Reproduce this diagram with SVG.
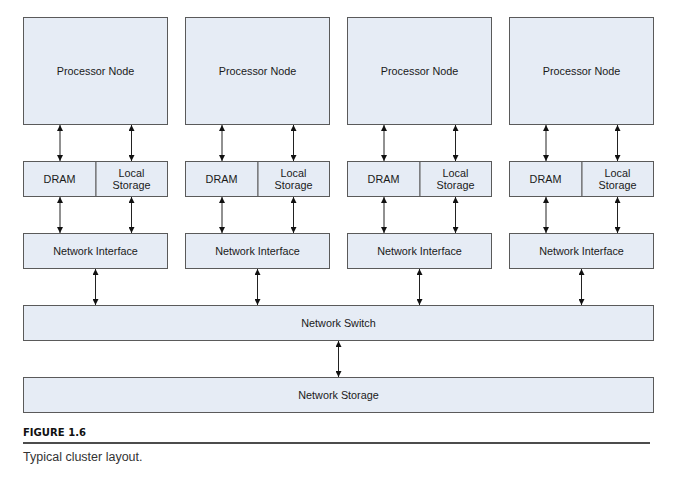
<svg xmlns="http://www.w3.org/2000/svg" width="684" height="487" viewBox="0 0 684 487">
<defs>
<marker id="ah" viewBox="0 0 6 6" refX="6" refY="3" markerWidth="6" markerHeight="6" markerUnits="userSpaceOnUse" orient="auto-start-reverse">
<path d="M0,0 L6,3 L0,6 Z" fill="#111"/>
</marker>
</defs>
<style>
.box{fill:#e6ecf5;stroke:#5a5a5a;stroke-width:1}
.lbl{font-family:"Liberation Sans",Arial,sans-serif;font-size:10.8px;fill:#1a1a1a;text-anchor:middle}
.con line{stroke:#222;stroke-width:1;marker-start:url(#ah);marker-end:url(#ah)}
</style>
<rect width="684" height="487" fill="#fff"/>
<g id="pn1"><rect class="box" x="23.5" y="17.5" width="144" height="107"/><text class="lbl" x="95.5" y="75">Processor Node</text></g>
<g id="pn2"><rect class="box" x="185.5" y="17.5" width="144" height="107"/><text class="lbl" x="257.5" y="75">Processor Node</text></g>
<g id="pn3"><rect class="box" x="347.5" y="17.5" width="144" height="107"/><text class="lbl" x="419.5" y="75">Processor Node</text></g>
<g id="pn4"><rect class="box" x="509.5" y="17.5" width="144" height="107"/><text class="lbl" x="581.5" y="75">Processor Node</text></g>

<g id="mem1"><rect class="box" x="23.5" y="161.5" width="72.5" height="35"/><rect class="box" x="96" y="161.5" width="71.5" height="35"/><text class="lbl" x="59.5" y="183">DRAM</text><text class="lbl" x="131.5" y="177">Local</text><text class="lbl" x="131.5" y="189">Storage</text></g>
<g id="mem2"><rect class="box" x="185.5" y="161.5" width="72.5" height="35"/><rect class="box" x="258" y="161.5" width="71.5" height="35"/><text class="lbl" x="221.5" y="183">DRAM</text><text class="lbl" x="293.5" y="177">Local</text><text class="lbl" x="293.5" y="189">Storage</text></g>
<g id="mem3"><rect class="box" x="347.5" y="161.5" width="72.5" height="35"/><rect class="box" x="420" y="161.5" width="71.5" height="35"/><text class="lbl" x="383.5" y="183">DRAM</text><text class="lbl" x="455.5" y="177">Local</text><text class="lbl" x="455.5" y="189">Storage</text></g>
<g id="mem4"><rect class="box" x="509.5" y="161.5" width="72.5" height="35"/><rect class="box" x="582" y="161.5" width="71.5" height="35"/><text class="lbl" x="545.5" y="183">DRAM</text><text class="lbl" x="617.5" y="177">Local</text><text class="lbl" x="617.5" y="189">Storage</text></g>

<g id="ni1"><rect class="box" x="23.5" y="233.5" width="144" height="35"/><text class="lbl" x="95.5" y="255">Network Interface</text></g>
<g id="ni2"><rect class="box" x="185.5" y="233.5" width="144" height="35"/><text class="lbl" x="257.5" y="255">Network Interface</text></g>
<g id="ni3"><rect class="box" x="347.5" y="233.5" width="144" height="35"/><text class="lbl" x="419.5" y="255">Network Interface</text></g>
<g id="ni4"><rect class="box" x="509.5" y="233.5" width="144" height="35"/><text class="lbl" x="581.5" y="255">Network Interface</text></g>

<g id="switch"><rect class="box" x="23.5" y="305.5" width="630" height="35"/><text class="lbl" x="338.5" y="327">Network Switch</text></g>
<g id="storage"><rect class="box" x="23.5" y="377.5" width="630" height="35"/><text class="lbl" x="338.5" y="399">Network Storage</text></g>

<g id="connectors" class="con">
<line x1="60" y1="125" x2="60" y2="161"/><line x1="131.5" y1="125" x2="131.5" y2="161"/>
<line x1="222" y1="125" x2="222" y2="161"/><line x1="293.5" y1="125" x2="293.5" y2="161"/>
<line x1="384" y1="125" x2="384" y2="161"/><line x1="455.5" y1="125" x2="455.5" y2="161"/>
<line x1="546" y1="125" x2="546" y2="161"/><line x1="617.5" y1="125" x2="617.5" y2="161"/>
<line x1="60" y1="197" x2="60" y2="233"/><line x1="131.5" y1="197" x2="131.5" y2="233"/>
<line x1="222" y1="197" x2="222" y2="233"/><line x1="293.5" y1="197" x2="293.5" y2="233"/>
<line x1="384" y1="197" x2="384" y2="233"/><line x1="455.5" y1="197" x2="455.5" y2="233"/>
<line x1="546" y1="197" x2="546" y2="233"/><line x1="617.5" y1="197" x2="617.5" y2="233"/>
<line x1="95.5" y1="269" x2="95.5" y2="305"/><line x1="257.5" y1="269" x2="257.5" y2="305"/>
<line x1="419.5" y1="269" x2="419.5" y2="305"/><line x1="581.5" y1="269" x2="581.5" y2="305"/>
<line x1="338.5" y1="341" x2="338.5" y2="377"/>
</g>

<text x="23" y="436" font-family="'DejaVu Sans Condensed','Liberation Sans',sans-serif" font-weight="bold" font-size="11" textLength="63" lengthAdjust="spacingAndGlyphs" fill="#111">FIGURE 1.6</text>
<line x1="23" y1="443" x2="650" y2="443" stroke="#111" stroke-width="1.5"/>
<text x="23" y="461" font-family="'Liberation Sans',Arial,sans-serif" font-size="12.5" fill="#333">Typical cluster layout.</text>
</svg>
